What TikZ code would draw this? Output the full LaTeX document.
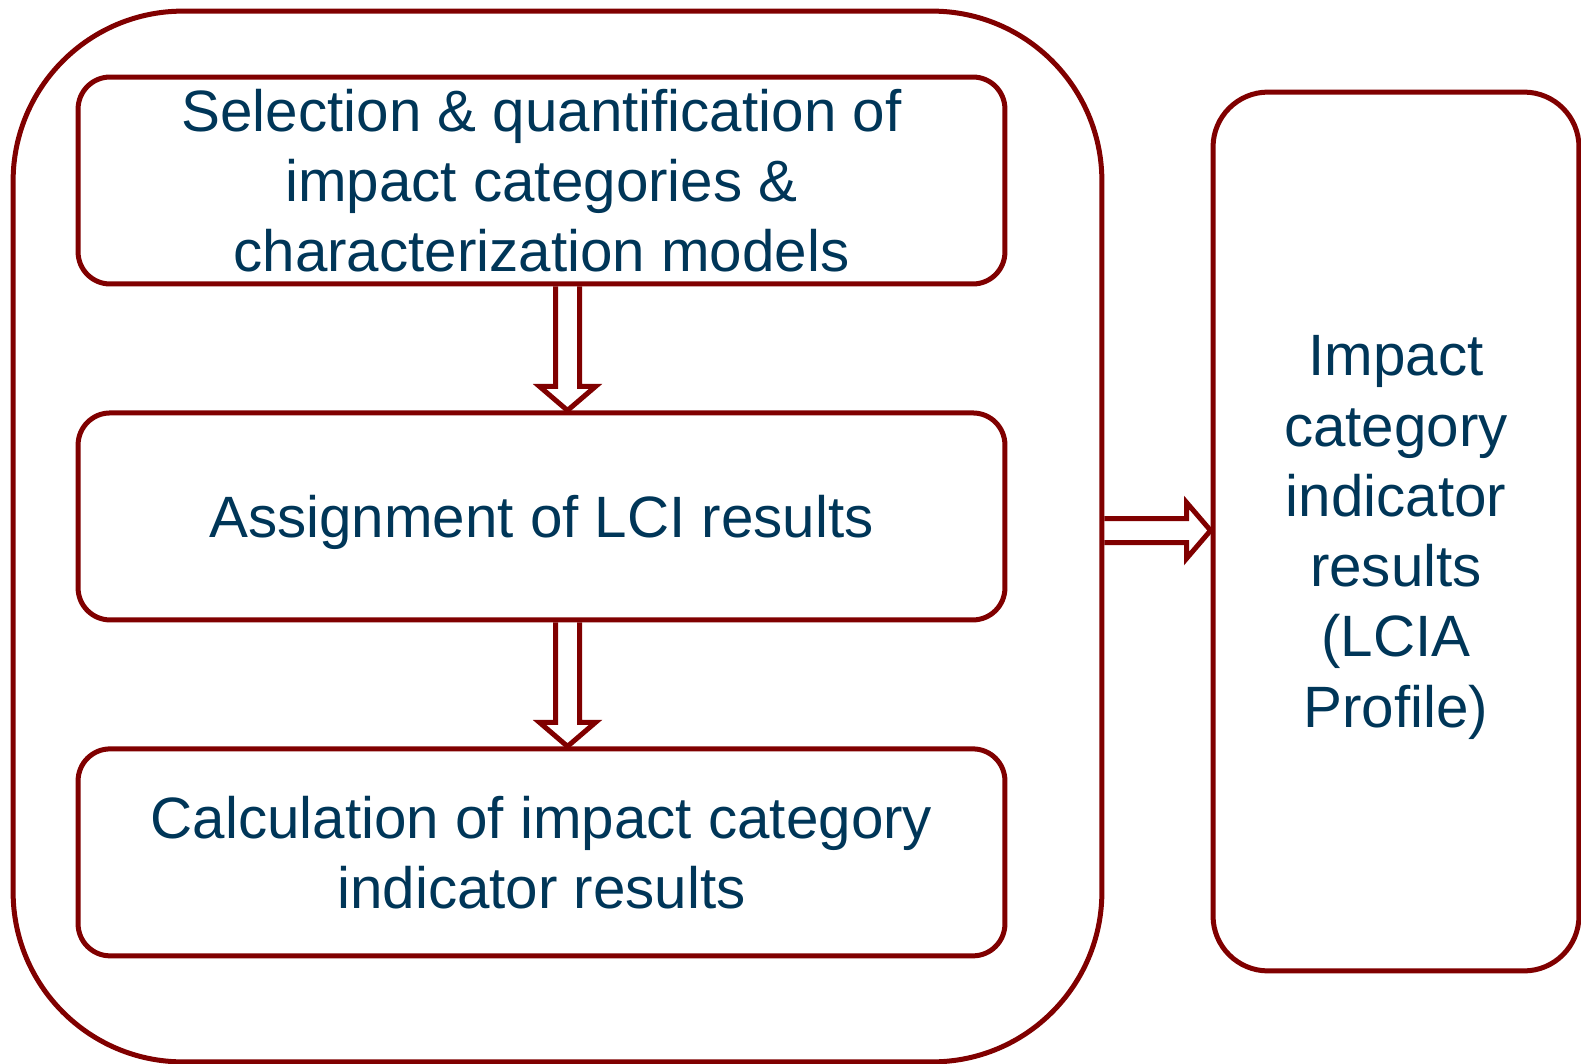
\documentclass[tikz,border=0pt]{standalone}
\usepackage{fontspec}
\setmainfont{Liberation Sans}
\usetikzlibrary{positioning, calc}

\definecolor{boxred}{RGB}{128,0,0}
\definecolor{textnavy}{RGB}{0,54,88}

\begin{document}
\begin{tikzpicture}[
  x=0.02cm, y=-0.02cm,
  outerbox/.style={draw=boxred, line width=0.1cm, rounded corners=3.4cm,
                   minimum width=21.78cm, minimum height=21.02cm},
  stepbox/.style={draw=boxred, line width=0.1cm, rounded corners=0.64cm,
                  minimum width=18.54cm, minimum height=4.14cm, align=center,
                  text=textnavy, text depth=0pt, font=\fontsize{33.2}{40}\selectfont},
  resultbox/.style={draw=boxred, line width=0.1cm, rounded corners=1.1cm,
                    minimum width=7.32cm, minimum height=17.58cm, align=center,
                    text=textnavy, text depth=0pt, font=\fontsize{33.2}{40}\selectfont},
  hollow/.style={draw=boxred, line width=0.1cm, line join=miter,
    to path={
      ($(\tikztotarget)!0.48cm!(\tikztostart)$) coordinate (neck)
      ($(\tikztostart)!0.24cm!90:(\tikztotarget)$)
        -- ($(neck)!0.24cm!90:(\tikztotarget)$)
        -- ($(neck)!0.56cm!90:(\tikztotarget)$)
        -- (\tikztotarget)
        -- ($(neck)!0.56cm!-90:(\tikztotarget)$)
        -- ($(neck)!0.24cm!-90:(\tikztotarget)$)
        -- ($(\tikztostart)!0.24cm!-90:(\tikztotarget)$)
    }},
]
\useasboundingbox (0,0) rectangle (1581,1064);

% LCIA frame
\node[outerbox] (lcia) at (557.5,536.5) {};

% Steps
\node[stepbox] (sel) at (541.5,180.5)
  {Selection \& quantification of\\impact categories \&\\characterization models};
\node[stepbox, below=2.48cm of sel] (asg) {Assignment of LCI results};
\node[stepbox, below=2.48cm of asg] (calcres)
  {Calculation of impact category\\indicator results};

% Result
\node[resultbox] (profile) at (1396,531.5)
  {Impact\\category\\indicator\\results\\(LCIA\\Profile)};

% Arrows
\draw[hollow] ([xshift=0.52cm]sel.south) to ([xshift=0.52cm]asg.north);
\draw[hollow] ([xshift=0.52cm]asg.south) to ([xshift=0.52cm]calcres.north);
\draw[hollow] ([yshift=0.12cm]lcia.east) to ([yshift=0.12cm]lcia.east -| profile.west);

\end{tikzpicture}
\end{document}
